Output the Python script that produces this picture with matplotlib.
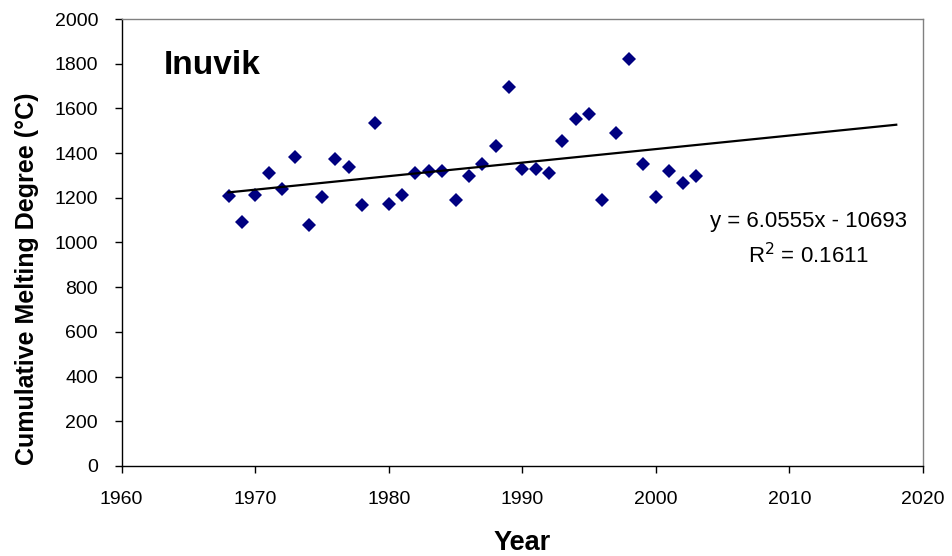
import numpy as np
import matplotlib.pyplot as plt

plt.rcParams['font.family'] = ['Liberation Sans', 'DejaVu Sans']

# Inuvik cumulative melting degree per year
years = list(range(1968, 2004))
melting = [1209, 1092, 1212, 1311, 1238, 1384, 1078, 1205, 1372, 1336,
           1166, 1536, 1172, 1211, 1312, 1318, 1321, 1190, 1297, 1350,
           1432, 1696, 1327, 1330, 1312, 1454, 1551, 1576, 1190, 1491,
           1822, 1350, 1202, 1321, 1268, 1299]

# linear trend as printed on the chart
slope = 6.0555
intercept = -10693
r2 = 0.1611
trend_years = [1968, 2018]

fig = plt.figure(figsize=(9.52, 5.56), dpi=100)
ax = fig.add_axes([0.1278, 0.1619, 0.8417, 0.8039])

ax.plot(years, melting, 'D', color='#000080', markersize=6.8, markeredgewidth=0)
tx = np.array(trend_years, dtype=float)
ax.plot(tx, slope * tx + intercept, color='black', lw=1.6)

ax.set_xlim(1960, 2020)
ax.set_ylim(0, 2000)
ax.set_xticks(range(1960, 2021, 10))
ax.set_yticks(range(0, 2001, 200))
ax.tick_params(direction='out', length=5, width=1, labelsize=14, colors='black')
ax.tick_params(axis='x', pad=13)
ax.tick_params(axis='y', pad=12)

for s in ['top', 'right']:
    ax.spines[s].set_color('#808080')
    ax.spines[s].set_linewidth(1)
for s in ['left', 'bottom']:
    ax.spines[s].set_color('black')
    ax.spines[s].set_linewidth(1)

ax.set_xlabel('Year', fontsize=19.5, fontweight='bold')
ax.xaxis.set_label_coords(0.5, -0.143)
ax.set_ylabel('Cumulative Melting Degree (°C)', fontsize=18, fontweight='bold')
ax.yaxis.set_label_coords(-0.103, 0.418)

ax.text(0.052, 0.895, 'Inuvik', transform=ax.transAxes, fontsize=24,
        fontweight='bold', ha='left', va='center')
ax.text(0.857, 0.548, f'y = {slope}x - {abs(intercept)}', transform=ax.transAxes,
        fontsize=16, ha='center', va='center')
ax.text(0.857, 0.470, f'R$^2$ = {r2}', transform=ax.transAxes,
        fontsize=16, ha='center', va='center')

fig.savefig('out.png', dpi=100)
